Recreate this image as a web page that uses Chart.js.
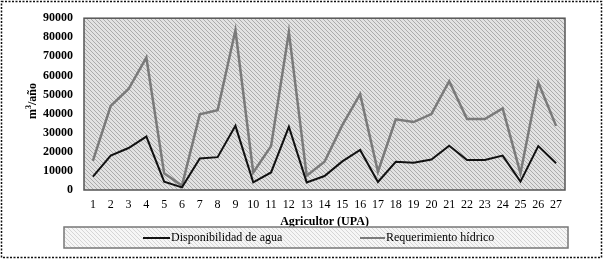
<!DOCTYPE html>
<html>
<head>
<meta charset="utf-8">
<script src="https://cdn.jsdelivr.net/npm/chart.js@4.4.0/dist/chart.umd.min.js"></script>
<style>
html,body{margin:0;padding:0;background:#fff;}
#wrap{width:603px;height:260px;position:relative;}
</style>
</head>
<body>
<div id="wrap"><canvas id="c" width="603" height="260"></canvas></div>
<script>
const categories = ['1','2','3','4','5','6','7','8','9','10','11','12','13','14','15','16','17','18','19','20','21','22','23','24','25','26','27'];
const disponibilidad = [7000,18000,22000,28000,4400,1400,16500,17200,33600,4000,9200,33100,4000,7300,15000,21000,4200,14800,14300,16000,23200,15700,15700,18000,4400,23000,14000];
const requerimiento = [15300,44100,52900,69400,8700,2300,39600,41800,83700,9200,23000,82800,7500,14800,34000,50200,9600,37000,35600,39800,57000,37200,37200,42700,8700,56300,33600];
const yTicks = [0,10000,20000,30000,40000,50000,60000,70000,80000,90000];
const seriesNames = ['Disponibilidad de agua','Requerimiento hídrico'];
const xTitle = 'Agricultor (UPA)';

const SERIF = '"Liberation Serif", "Times New Roman", serif';

function makePattern(bg, fg){
  const p = document.createElement('canvas');
  p.width = 4; p.height = 4;
  const g = p.getContext('2d');
  g.fillStyle = bg; g.fillRect(0,0,4,4);
  g.fillStyle = fg;
  for(let i=0;i<4;i++){ g.fillRect(i,i,1,1); }
  return g.createPattern(p,'repeat');
}

const decor = {
  id:'decor',
  beforeDraw(chart){
    const ctx = chart.ctx, a = chart.chartArea;
    ctx.save();
    ctx.fillStyle = '#fff';
    ctx.fillRect(0,0,chart.width,chart.height);
    ctx.fillStyle = makePattern('#e2e2e2','#ababab');
    ctx.fillRect(a.left,a.top,a.right-a.left,a.bottom-a.top);
    ctx.restore();
  },
  afterDraw(chart){
    const ctx = chart.ctx, a = chart.chartArea;
    ctx.save();
    ctx.strokeStyle = '#555';
    ctx.lineWidth = 1.5;
    ctx.strokeRect(a.left,a.top,a.right-a.left,a.bottom-a.top);
    ctx.strokeStyle = '#111';
    ctx.lineWidth = 1.5;
    ctx.setLineDash([2,1.5]);
    ctx.strokeRect(1.5,1.5,600,256);
    ctx.setLineDash([]);
    // y title
    ctx.fillStyle = '#000';
    ctx.save();
    ctx.translate(36,101);
    ctx.rotate(-Math.PI/2);
    ctx.font = 'bold 12px ' + SERIF;
    const w1 = ctx.measureText('m').width, w2 = ctx.measureText('/año').width;
    ctx.font = 'bold 8px ' + SERIF;
    const w3 = ctx.measureText('3').width;
    const tot = w1+w2+w3;
    ctx.textBaseline = 'alphabetic';
    ctx.font = 'bold 12px ' + SERIF;
    ctx.fillText('m',-tot/2,0);
    ctx.fillText('/año',-tot/2+w1+w3,0);
    ctx.font = 'bold 8px ' + SERIF;
    ctx.fillText('3',-tot/2+w1,-5);
    ctx.restore();
    // x title
    ctx.font = 'bold 12px ' + SERIF;
    ctx.textAlign = 'center';
    ctx.textBaseline = 'middle';
    ctx.fillText(xTitle,(a.left+a.right)/2,222);
    // legend box
    ctx.fillStyle = makePattern('#f6f6f6','#d6d6d6');
    ctx.fillRect(64,227,504,21);
    ctx.strokeStyle = '#777';
    ctx.lineWidth = 1.5;
    ctx.strokeRect(64,227,504,21);
    const ds = chart.data.datasets;
    const items = [{x1:143,x2:170},{x1:360,x2:385}];
    items.forEach((it,i)=>{
      ctx.strokeStyle = ds[i].borderColor;
      ctx.lineWidth = 2;
      ctx.beginPath(); ctx.moveTo(it.x1,238); ctx.lineTo(it.x2,238); ctx.stroke();
      ctx.fillStyle = '#000';
      ctx.font = '12px ' + SERIF;
      ctx.textAlign = 'left';
      ctx.textBaseline = 'middle';
      ctx.fillText(ds[i].label,it.x2+1,238);
    });
    ctx.restore();
  }
};

new Chart(document.getElementById('c'),{
  type:'line',
  data:{
    labels:categories,
    datasets:[
      {label:seriesNames[0],data:disponibilidad,borderColor:'#111',borderWidth:2,pointRadius:0,tension:0,fill:false},
      {label:seriesNames[1],data:requerimiento,borderColor:'#7a7a7a',borderWidth:2.5,pointRadius:0,tension:0,fill:false}
    ]
  },
  options:{
    responsive:false,
    animation:false,
    events:[],
    layout:{padding:{left:0,right:38,top:18,bottom:0}},
    plugins:{legend:{display:false},tooltip:{enabled:false},title:{display:false}},
    scales:{
      x:{
        offset:true,
        grid:{display:false,drawTicks:false},
        border:{display:false},
        ticks:{padding:8,color:'#000',font:{family:SERIF,size:12},maxRotation:0,autoSkip:false},
        afterFit(s){ s.height = 70; }
      },
      y:{
        min:0,max:90000,
        afterBuildTicks(s){ s.ticks = yTicks.map(v=>({value:v})); },
        grid:{display:false,drawTicks:false},
        border:{display:false},
        ticks:{padding:11,color:'#000',font:{family:SERIF,size:12,weight:'bold'},callback:(v)=>String(v)},
        afterFit(s){ s.width = 84; }
      }
    }
  },
  plugins:[decor]
});
</script>
</body>
</html>
